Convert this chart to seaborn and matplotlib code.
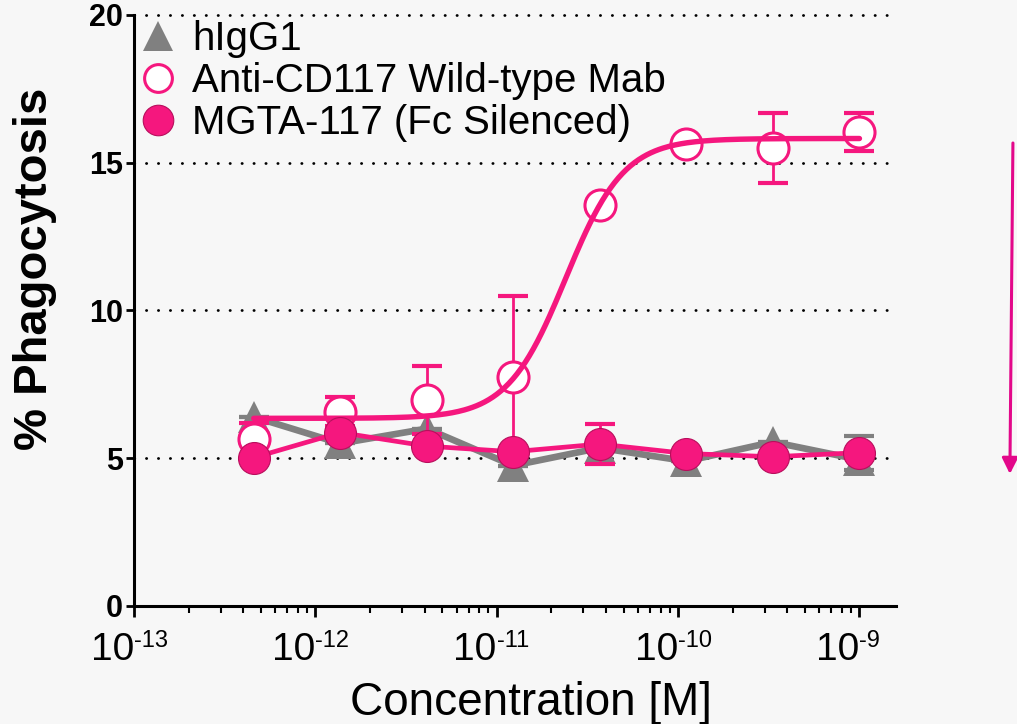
import numpy as np
import pandas as pd
import matplotlib
matplotlib.use("Agg")
import matplotlib.pyplot as plt
import seaborn as sns
from matplotlib.lines import Line2D
from matplotlib.ticker import LogLocator, NullFormatter, FixedLocator

# concentrations (M), 3-fold dilution series
conc = [4.57e-13, 1.37e-12, 4.12e-12, 1.23e-11, 3.70e-11, 1.11e-10, 3.33e-10, 1.0e-9]

# hIgG1 isotype control
higg1 = [6.40, 5.50, 6.00, 4.75, 5.35, 4.90, 5.55, 4.95]
higg1_err_lo = [0, 0, 0, 0, 0, 0, 0, 0.35]
higg1_err_hi = [0, 0, 0, 0, 0, 0, 0, 0.80]

# Anti-CD117 wild-type mAb
wt = [5.65, 6.58, 6.97, 7.75, 13.57, 15.65, 15.50, 16.05]
wt_err = [0.55, 0.50, 1.15, 2.74, 0.0, 0.10, 1.20, 0.65]

# MGTA-117 (Fc silenced)
mgta = [5.02, 5.87, 5.41, 5.22, 5.48, 5.16, 5.05, 5.19]
mgta_err = [0.0, 0.20, 0.0, 0.0, 0.67, 0.0, 0.0, 0.0]

# 4PL fit of wild-type
fit_bottom, fit_top, fit_logec50, fit_hill = 6.35, 15.82, -10.62, 2.7

labels = ["hIgG1", "Anti-CD117 Wild-type Mab", "MGTA-117 (Fc Silenced)"]
y_ticks = [0, 5, 10, 15, 20]
x_exps = [-13, -12, -11, -10, -9]

PINK = "#F5177E"
GREY = "#808080"
BG = "#F7F7F7"

sns.set_theme(style="ticks")
plt.rcParams["font.family"] = ["Liberation Sans", "DejaVu Sans"]
plt.rcParams["text.color"] = "black"
plt.rcParams["axes.labelcolor"] = "black"

df = pd.DataFrame({"conc": conc, "hIgG1": higg1, "WT": wt, "MGTA": mgta})

fig = plt.figure(figsize=(10.17, 7.24), dpi=100, facecolor=BG)
ax = fig.add_axes([0.1318, 0.163, 0.7493, 0.8163])
ax.set_facecolor(BG)
ax.set_xscale("log")

# dotted grid lines
for yv in y_ticks[1:]:
    ax.axhline(yv, color="black", lw=2, linestyle=(0, (0.1, 4.2)),
               dash_capstyle="round", zorder=1, clip_on=False)

# hIgG1
sns.lineplot(data=df, x="conc", y="hIgG1", ax=ax, color=GREY, lw=4.8,
             marker="^", markersize=23, markeredgewidth=0, zorder=2)
ax.errorbar(conc, higg1, yerr=[higg1_err_lo, higg1_err_hi], fmt="none",
            ecolor=GREY, elinewidth=2, capsize=11, capthick=3, zorder=2)

# wild type
ax.errorbar(conc, wt, yerr=wt_err, fmt="none", ecolor=PINK, elinewidth=2,
            capsize=11, capthick=3, zorder=3)
sns.scatterplot(x=conc, y=wt, ax=ax, marker="o", s=500, color="white",
                edgecolor=PINK, linewidth=2.2, zorder=4)
xs = np.logspace(np.log10(conc[0]), np.log10(conc[-1]), 300)
ys = fit_bottom + (fit_top - fit_bottom) / (1 + 10 ** ((fit_logec50 - np.log10(xs)) * fit_hill))
sns.lineplot(x=xs, y=ys, ax=ax, color=PINK, lw=3.9, zorder=5)

# MGTA-117
ax.errorbar(conc, mgta, yerr=mgta_err, fmt="none", ecolor=PINK, elinewidth=2,
            capsize=11, capthick=3, zorder=6)
sns.lineplot(data=df, x="conc", y="MGTA", ax=ax, color=PINK, lw=3.4,
             marker="o", markersize=23, markeredgecolor="#B80E5C",
             markeredgewidth=0.8, zorder=7)

ax.set_xlim(1e-13, 10 ** -8.798)
ax.set_ylim(0, 20)

sns.despine(ax=ax)
for side in ["left", "bottom"]:
    ax.spines[side].set_linewidth(2.2)
    ax.spines[side].set_color("black")

ax.set_yticks(y_ticks)
ax.set_yticklabels([str(v) for v in y_ticks], fontsize=22, fontweight="bold")
ax.tick_params(axis="y", direction="out", length=6, width=2, pad=2, colors="black")

ax.xaxis.set_major_locator(FixedLocator([10.0 ** e for e in x_exps]))
ax.xaxis.set_minor_locator(LogLocator(base=10, subs=np.arange(2, 10)))
ax.xaxis.set_minor_formatter(NullFormatter())
ax.set_xticklabels([""] * len(x_exps))
ax.tick_params(axis="x", which="major", direction="out", length=8, width=2, colors="black")
ax.tick_params(axis="x", which="minor", direction="out", length=5, width=1.5, colors="black")

tr = ax.get_xaxis_transform()
for e in x_exps:
    ax.text(10.0 ** e, -0.0914, "10", transform=tr, ha="right", va="baseline", fontsize=28)
    ax.text(10.0 ** e, -0.069, f"-{abs(e)}", transform=tr, ha="left", va="baseline", fontsize=17)

ax.set_xlabel("")
ax.set_ylabel("% Phagocytosis", fontsize=34, fontweight="bold")
ax.yaxis.label.set_verticalalignment("center")
ax.yaxis.set_label_coords(-0.13, 0.570)
fig.text(531 / 1017, 1 - 715 / 724, "Concentration [M]", ha="center", va="baseline", fontsize=33)

handles = [
    Line2D([], [], ls="none", marker="^", markersize=22, color=GREY, markeredgewidth=0),
    Line2D([], [], ls="none", marker="o", markersize=20, markerfacecolor="white",
           markeredgecolor=PINK, markeredgewidth=2.2),
    Line2D([], [], ls="none", marker="o", markersize=22, markerfacecolor=PINK,
           markeredgecolor="#B80E5C", markeredgewidth=0.8),
]
leg = ax.legend(handles, labels, loc="upper left", bbox_to_anchor=(0.0105, 0.992),
                frameon=False, fontsize=29, handlelength=0.8, handletextpad=0.45,
                labelspacing=0.1, borderpad=0, borderaxespad=0)
leg.set_zorder(10)

ax.annotate("", xy=(0.993, 1 - 474 / 724), xytext=(0.996, 1 - 143 / 724),
            xycoords="figure fraction", textcoords="figure fraction",
            arrowprops=dict(arrowstyle="-|>", color="#E3088A", lw=2.2,
                            mutation_scale=24, shrinkA=0, shrinkB=0))

fig.savefig("out.png", dpi=100, facecolor=BG)
